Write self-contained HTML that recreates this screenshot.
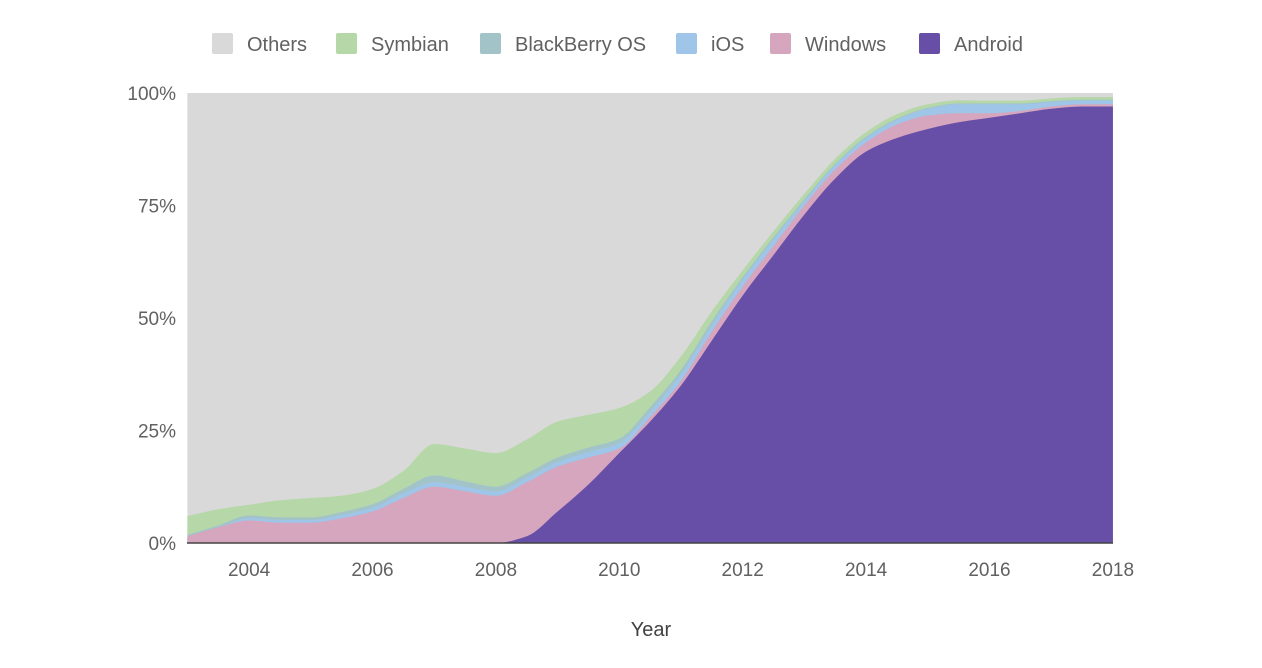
<!DOCTYPE html>
<html><head><meta charset="utf-8"><style>
body{margin:0;background:#fff;width:1262px;height:663px;overflow:hidden;font-family:"Liberation Sans",sans-serif}
</style></head><body>
<svg id="c" width="1262" height="663"></svg>
<script>
const years=[];for(let y=2003;y<=2018.001;y+=0.5)years.push(y);
const android=[0,0,0,0,0,0,0,0,0,0,0,1.5,7,13,20,27,35,45,55,64,73,81,87,90,92,93.5,94.5,95.5,96.5,97,97];
const windows=[1.5,3.5,5,4.5,4.5,5.5,7,10,12.5,11.5,10.5,12,10,6,1,1,1,2,2,2,2,2,2,3,3,2,1,0.5,0.5,0.5,0.5];
const ios=[0,0,0.5,0.6,0.6,0.7,0.8,1,1,1,1,1,1,1.2,1.2,1.2,1.5,1.5,1.5,1.5,1,1,1,1,1.5,2,2,1.5,1,0.8,0.8];
const blackberry=[0.3,0.4,0.6,0.6,0.6,0.7,0.8,1,1.5,1.2,1,1,1,1,1,1,1,0.8,0.6,0.5,0.4,0.3,0.3,0.3,0.2,0.2,0.2,0.2,0.2,0.2,0.2];
const symbian=[4.2,3.6,2.4,3.8,4.3,3.6,3.4,4,7,7.3,7.5,7.5,8,7.3,6.8,3.5,3,2.2,1.5,1.3,1.2,1.1,1,1,0.8,0.7,0.6,0.6,0.6,0.6,0.6];
const xTicks=[2004,2006,2008,2010,2012,2014,2016,2018];
const yTicks=[0,25,50,75,100];
const seriesNames=["Android","Windows","iOS","BlackBerry OS","Symbian","Others"];
const colors={"Android":"#674ea7","Windows":"#d5a6bd","iOS":"#9fc5e8","BlackBerry OS":"#a2c4c9","Symbian":"#b6d7a8","Others":"#d9d9d9"};
const X=v=>187.4+(v-2003)*61.7, Y=p=>543-p*4.5;
const svg=document.getElementById('c');const NS='http://www.w3.org/2000/svg';
function mk(t,a,p){const e=document.createElementNS(NS,t);for(const k in a)e.setAttribute(k,a[k]);(p||svg).appendChild(e);return e;}
function mono(xs,ys){const n=xs.length,d=[],m=[];for(let i=0;i<n-1;i++)d.push((ys[i+1]-ys[i])/(xs[i+1]-xs[i]));
m[0]=d[0];m[n-1]=d[n-2];for(let i=1;i<n-1;i++){m[i]=(d[i-1]*d[i]<=0)?0:3*(xs[i+1]-xs[i-1])/((2*xs[i+1]-xs[i]-xs[i-1])/d[i-1]+(xs[i+1]+xs[i]-2*xs[i-1])/d[i]);}
let s='';for(let i=0;i<n-1;i++){const h=(xs[i+1]-xs[i])/3;s+=` C${xs[i]+h},${ys[i]+m[i]*h} ${xs[i+1]-h},${ys[i+1]-m[i+1]*h} ${xs[i+1]},${ys[i+1]}`;}return s;}
const others=years.map((_,i)=>100-android[i]-windows[i]-ios[i]-blackberry[i]-symbian[i]);
const vals=[android,windows,ios,blackberry,symbian,others];
let cum=years.map(()=>0);
const xs=years.map(X);
const layers=[];
vals.forEach((v,k)=>{const lo=cum.slice();cum=cum.map((c,i)=>c+v[i]);layers.push([lo,cum.slice()]);});
for(let k=layers.length-1;k>=0;k--){const [lo,hi]=layers[k];
const top=hi.map(Y);
let d=`M${xs[0]},${Y(0)} L${xs[0]},${top[0]}`+mono(xs,top)+` L${xs[xs.length-1]},${Y(0)} Z`;
const p=mk('path',{d,fill:colors[seriesNames[k]]});

}
const base=mk('line',{x1:187,x2:1113,y1:543,y2:543,stroke:'#444','stroke-width':1.5});


yTicks.forEach(t=>{const e=mk('text',{x:176,y:Y(t)+7,'text-anchor':'end','font-size':19,fill:'#616161'});e.textContent=t+'%';

});
xTicks.forEach(t=>{const e=mk('text',{x:X(t),y:576,'text-anchor':'middle','font-size':19,fill:'#616161'});e.textContent=t;

});
const xt=mk('text',{x:651,y:636,'text-anchor':'middle','font-size':20,fill:'#424242'});xt.textContent='Year';


const leg=[["Others",212],["Symbian",336],["BlackBerry OS",480],["iOS",676],["Windows",770],["Android",919]];
leg.forEach(([n,x])=>{const g=mk('g',{});


mk('rect',{x,y:33,width:21,height:21,rx:2,fill:colors[n]},g);
const t=mk('text',{x:x+35,y:51,'font-size':20,fill:'#616161'},g);t.textContent=n;});
</script>
</body></html>
